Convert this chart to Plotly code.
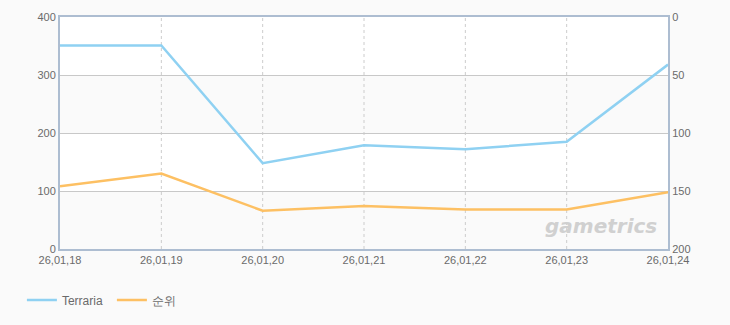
import plotly.graph_objects as go

dates = ["26,01,18", "26,01,19", "26,01,20", "26,01,21", "26,01,22", "26,01,23", "26,01,24"]
terraria = [351, 351, 148, 179, 172, 185, 318]
rank = [146, 135, 167, 163, 166, 166, 151]

left_ticks = [0, 100, 200, 300, 400]
right_ticks = [0, 50, 100, 150, 200]

blue = "#8fd1f2"
orange = "#fdc063"
axis_col = "#adbdd1"
grid_col = "#c8c8c8"
font = "Liberation Sans"
tick_col = "#6a6a6a"

fig = go.Figure()
xs = list(range(len(dates)))
fig.add_trace(go.Scatter(x=xs, y=terraria, name="Terraria", mode="lines",
                         line=dict(color=blue, width=2.5), yaxis="y"))
fig.add_trace(go.Scatter(x=xs, y=rank, name="순위", mode="lines",
                         line=dict(color=orange, width=2.5), yaxis="y2"))

# alternating bands
for lo, hi in [(0, 100), (200, 300)]:
    fig.add_shape(type="rect", xref="x", yref="y", x0=0, x1=6, y0=lo, y1=hi,
                  fillcolor="#fafafa", line_width=0, layer="below")
# dashed vertical grid
for i in xs[1:-1]:
    fig.add_shape(type="line", xref="x", yref="y", x0=i, x1=i, y0=0, y1=400,
                  line=dict(color="#cccccc", width=1, dash="3px,3px"), layer="below")

fig.add_annotation(text="<b><i>gametrics</i></b>", x=0.985, y=0.04, xref="paper", yref="paper",
                   xanchor="right", yanchor="bottom", showarrow=False,
                   font=dict(family="DejaVu Sans", size=20, color="#d0d0d0"))

fig.update_layout(
    width=730, height=325,
    margin=dict(l=60, r=62, t=17, b=76, autoexpand=False),
    paper_bgcolor="#fafafa", plot_bgcolor="#ffffff",
    font=dict(family=font, size=11, color=tick_col),
    xaxis=dict(range=[0, 6], tickmode="array", tickvals=xs, ticktext=dates,
               showgrid=False, zeroline=False, showline=True, linecolor=axis_col,
               linewidth=2, mirror=True, ticks="", ticklabelstandoff=0,
               tickfont=dict(size=11, color=tick_col)),
    yaxis=dict(range=[0, 400], tickvals=left_ticks, showgrid=True, gridcolor=grid_col,
               gridwidth=1, zeroline=False, showline=True, linecolor=axis_col, linewidth=2,
               ticks="", ticklabelstandoff=0, tickfont=dict(size=11, color=tick_col)),
    yaxis2=dict(range=[200, 0], tickvals=right_ticks, overlaying="y", side="right",
                showgrid=False, zeroline=False, showline=True, linecolor=axis_col, linewidth=2,
                ticks="", ticklabelstandoff=0, tickfont=dict(size=11, color=tick_col)),
    legend=dict(orientation="h", xref="container", yref="container", x=0.03, y=0.077,
                xanchor="left", yanchor="middle", entrywidth=45,
                font=dict(size=12, color=tick_col), bgcolor="rgba(0,0,0,0)"),
    showlegend=True,
)

fig.write_html("out.html")
